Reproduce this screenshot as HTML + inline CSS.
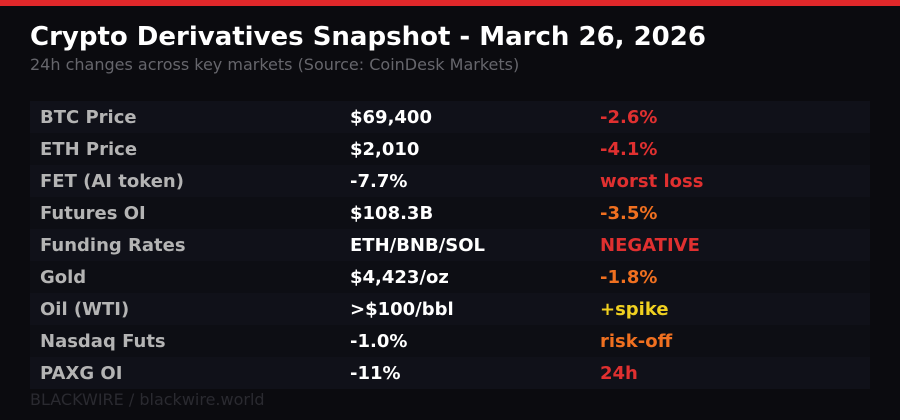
<!DOCTYPE html>
<html><head><meta charset="utf-8"><style>
body{margin:0;width:900px;height:420px;background:#0b0b0f;overflow:hidden;font-family:"DejaVu Sans","Liberation Sans",sans-serif;position:relative}
.bar{position:absolute;left:0;top:0;width:900px;height:6px;background:#e0282a}
.t{position:absolute;left:30px;top:22px;font-size:26px;font-weight:bold;color:#fff;white-space:nowrap}
.s{position:absolute;left:30px;top:55px;font-size:16px;color:#66666c;white-space:nowrap}
.row{position:absolute;left:30px;width:840px;height:32px;font-size:18px;font-weight:bold;line-height:34px}
.row span{position:absolute;white-space:nowrap}
.a{left:10px;color:#b4b4b4}.b{left:320px;color:#fff}.c{left:570px}
.r{color:#e03030}.o{color:#f07020}.y{color:#f0d020}
.f{position:absolute;left:30px;top:390px;font-size:16px;color:#2a2a30}
</style></head><body>
<div class="bar"></div>
<div class="t">Crypto Derivatives Snapshot - March 26, 2026</div>
<div class="s">24h changes across key markets (Source: CoinDesk Markets)</div>
<div class="row" style="top:101px;background:#101119"><span class="a">BTC Price</span><span class="b">$69,400</span><span class="c r">-2.6%</span></div>
<div class="row" style="top:133px;background:#0d0e14"><span class="a">ETH Price</span><span class="b">$2,010</span><span class="c r">-4.1%</span></div>
<div class="row" style="top:165px;background:#101119"><span class="a">FET (AI token)</span><span class="b">-7.7%</span><span class="c r">worst loss</span></div>
<div class="row" style="top:197px;background:#0d0e14"><span class="a">Futures OI</span><span class="b">$108.3B</span><span class="c o">-3.5%</span></div>
<div class="row" style="top:229px;background:#101119"><span class="a">Funding Rates</span><span class="b">ETH/BNB/SOL</span><span class="c r">NEGATIVE</span></div>
<div class="row" style="top:261px;background:#0d0e14"><span class="a">Gold</span><span class="b">$4,423/oz</span><span class="c o">-1.8%</span></div>
<div class="row" style="top:293px;background:#101119"><span class="a">Oil (WTI)</span><span class="b">&gt;$100/bbl</span><span class="c y">+spike</span></div>
<div class="row" style="top:325px;background:#0d0e14"><span class="a">Nasdaq Futs</span><span class="b">-1.0%</span><span class="c o">risk-off</span></div>
<div class="row" style="top:357px;background:#101119"><span class="a">PAXG OI</span><span class="b">-11%</span><span class="c r">24h</span></div>
<div class="f">BLACKWIRE / blackwire.world</div>
</body></html>
